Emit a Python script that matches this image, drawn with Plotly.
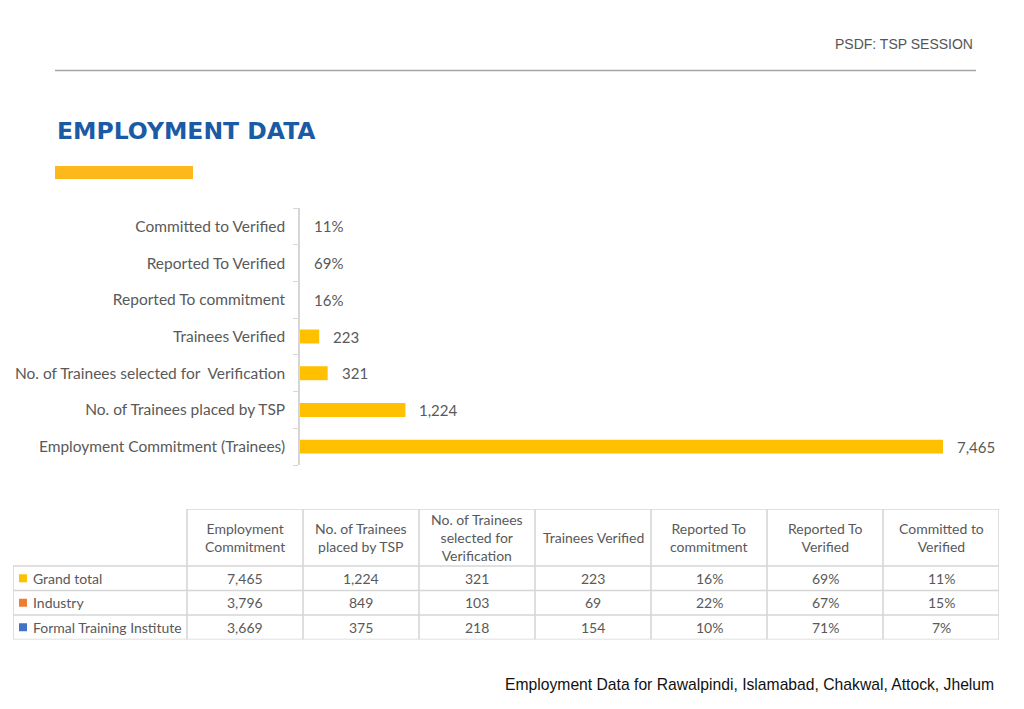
import plotly.graph_objects as go

W, H = 1024, 709

# ---- bar chart data (bottom -> top) ----
categories = [
    "Employment Commitment (Trainees)",
    "No. of Trainees placed by TSP",
    "No. of Trainees selected for  Verification",
    "Trainees Verified",
    "Reported To commitment",
    "Reported To Verified",
    "Committed to Verified",
]
bar_values = [7465, 1224, 321, 223, 0.16, 0.69, 0.11]

# ---- table data ----
table_headers = [
    "Employment<br>Commitment",
    "No. of Trainees<br>placed by TSP",
    "No. of Trainees<br>selected for<br>Verification",
    "Trainees Verified",
    "Reported To<br>commitment",
    "Reported To<br>Verified",
    "Committed to<br>Verified",
]
row_labels = ["Grand total", "Industry", "Formal Training Institute"]
row_colors = ["#FFC000", "#ED7D31", "#4472C4"]
col_commitment = ["7,465", "3,796", "3,669"]
col_placed = ["1,224", "849", "375"]
col_selected = ["321", "103", "218"]
col_verified = ["223", "69", "154"]
col_rep_commit = ["16%", "22%", "10%"]
col_rep_verified = ["69%", "67%", "71%"]
col_commit_verified = ["11%", "15%", "7%"]
table_columns = [col_commitment, col_placed, col_selected, col_verified,
                 col_rep_commit, col_rep_verified, col_commit_verified]


def fmt(v):
    return f"{v:.0%}" if v < 1 else f"{v:,.0f}"


bar_labels = [fmt(v) for v in bar_values]
# ratio rows have bars far too thin to see at this scale
bar_colors = ["#FFC000" if v >= 1 else "rgba(0,0,0,0)" for v in bar_values]

GRAY_TXT = "#595959"
LINE = "#d6d6d6"
LABEL_FONT = "Lato"

fig = go.Figure()

fig.add_trace(go.Bar(
    x=bar_values, y=categories, orientation="h",
    marker=dict(color=bar_colors, line=dict(width=0)),
    width=0.38, hoverinfo="skip", showlegend=False,
))

annotations = []
for v, c, t in zip(bar_values, categories, bar_labels):
    annotations.append(dict(
        x=v, y=c, xref="x", yref="y", text=t, showarrow=False,
        xanchor="left", yanchor="middle", xshift=12,
        font=dict(family=LABEL_FONT, size=15, color=GRAY_TXT),
    ))

# ---- table geometry (in table-axis units = pixels) ----
label_w, col_w = 174, 116
header_h, row_h = 57, 24.5
ncols = len(table_headers)
nrows = len(row_labels)
x_edges = [0, label_w] + [label_w + col_w * (i + 1) for i in range(ncols)]
y_edges = [0, header_h] + [header_h + row_h * (i + 1) for i in range(nrows)]
tab_w, tab_h = x_edges[-1], y_edges[-1]

shapes = []
tline = dict(color=LINE, width=1.6)
# horizontal lines
shapes.append(dict(type="line", xref="x2", yref="y2", x0=label_w, x1=tab_w, y0=0, y1=0, line=tline))
for yv in y_edges[1:]:
    shapes.append(dict(type="line", xref="x2", yref="y2", x0=0, x1=tab_w, y0=yv, y1=yv, line=tline))
# vertical lines
shapes.append(dict(type="line", xref="x2", yref="y2", x0=0, x1=0, y0=header_h, y1=tab_h, line=tline))
for xv in x_edges[1:]:
    shapes.append(dict(type="line", xref="x2", yref="y2", x0=xv, x1=xv, y0=0, y1=tab_h, line=tline))

tfont = dict(family=LABEL_FONT, size=14, color=GRAY_TXT)
for j, htxt in enumerate(table_headers):
    xc = (x_edges[j + 1] + x_edges[j + 2]) / 2
    annotations.append(dict(x=xc, y=header_h / 2, xref="x2", yref="y2", text=htxt,
                            showarrow=False, xanchor="center", yanchor="middle",
                            align="center", font=tfont))
for i in range(nrows):
    yc = (y_edges[i + 1] + y_edges[i + 2]) / 2
    annotations.append(dict(x=18, y=yc, xref="x2", yref="y2", text=row_labels[i],
                            showarrow=False, xanchor="left", yanchor="middle", font=tfont))
    for j, col in enumerate(table_columns):
        xc = (x_edges[j + 1] + x_edges[j + 2]) / 2
        annotations.append(dict(x=xc, y=yc, xref="x2", yref="y2", text=col[i],
                                showarrow=False, xanchor="center", yanchor="middle", font=tfont))

row_centers = [(y_edges[i + 1] + y_edges[i + 2]) / 2 for i in range(nrows)]
fig.add_trace(go.Scatter(
    x=[10] * nrows, y=row_centers, xaxis="x2", yaxis="y2", mode="markers",
    marker=dict(symbol="square", size=8, color=row_colors, line=dict(width=0)),
    hoverinfo="skip", showlegend=False,
))

# slide decorations
annotations += [
    dict(x=975 / W, y=1 - 44 / H, xref="paper", yref="paper", text="PSDF: TSP SESSION",
         showarrow=False, xanchor="right", yanchor="middle",
         font=dict(family="Liberation Sans", size=14, color="#555555")),
    dict(x=55 / W, y=1 - 131 / H, xref="paper", yref="paper", text="<b>EMPLOYMENT DATA</b>",
         showarrow=False, xanchor="left", yanchor="middle",
         font=dict(family="DejaVu Sans", size=23.5, color="#1B5AA5")),
    dict(x=996 / W, y=1 - 684 / H, xref="paper", yref="paper",
         text="Employment Data for Rawalpindi, Islamabad, Chakwal, Attock, Jhelum",
         showarrow=False, xanchor="right", yanchor="middle",
         font=dict(family="Liberation Sans", size=15.7, color="#111111")),
]

shapes += [
    dict(type="line", xref="paper", yref="paper", x0=55 / W, x1=976 / W,
         y0=1 - 70.5 / H, y1=1 - 70.5 / H, line=dict(color="#a6a6a6", width=1.5)),
    dict(type="rect", xref="paper", yref="paper", x0=55 / W, x1=193 / W,
         y0=1 - 179 / H, y1=1 - 166 / H, fillcolor="#FDB91C", line=dict(width=0)),
]

tab_x0, tab_y0 = 13, 509
fig.update_layout(
    width=W, height=H,
    margin=dict(l=0, r=0, t=0, b=0),
    paper_bgcolor="white", plot_bgcolor="white",
    xaxis=dict(domain=[300 / W, 943 / W], range=[0, 7465], visible=False,
               showgrid=False, zeroline=False, fixedrange=True),
    yaxis=dict(domain=[1 - 465 / H, 1 - 208 / H], type="category",
               categoryorder="array", categoryarray=categories,
               showline=True, linecolor=LINE, linewidth=1.5,
               ticks="outside", tickson="boundaries", ticklen=5, tickcolor=LINE,
               ticklabelstandoff=10, showgrid=False, zeroline=False,
               tickfont=dict(family=LABEL_FONT, size=15.5, color=GRAY_TXT),
               fixedrange=True),
    xaxis2=dict(domain=[tab_x0 / W, (tab_x0 + tab_w) / W], range=[0, tab_w],
                visible=False, fixedrange=True, anchor="y2"),
    yaxis2=dict(domain=[1 - (tab_y0 + tab_h) / H, 1 - tab_y0 / H], range=[tab_h, 0],
                visible=False, fixedrange=True, anchor="x2"),
    annotations=annotations,
    shapes=shapes,
    showlegend=False,
)

fig.write_html("out.html", config={"displayModeBar": False},
               post_script="document.body.style.margin='0';")
